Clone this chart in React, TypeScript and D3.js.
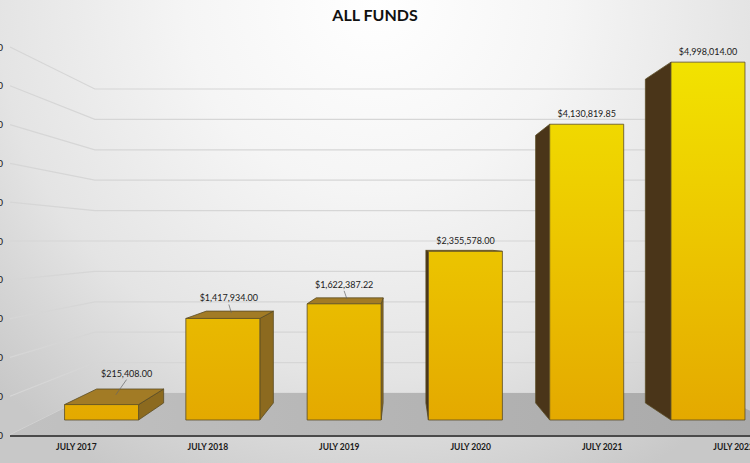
import * as d3 from 'd3'

const years = ['JULY 2017', 'JULY 2018', 'JULY 2019', 'JULY 2020', 'JULY 2021', 'JULY 2022']
const totals = [215408.0, 1417934.0, 1622387.22, 2355578.0, 4130819.85, 4998014.0]
const yTicks = d3.range(0, 5000001, 500000)

// label nudges for the three short bars (they have leader lines)
const labelShift: [number, number][] = [[25, -21], [6, -10], [0, -9], [0, 0], [0, 0], [0, 0]]

const width = 750
const height = 463
const eye = { x: 402, y: 241 }

const fmtValue = d3.format('$,.2f')
const fmtTick = d3.format('$,')

type Pt = [number, number]

export default function App() {
  const x = d3.scaleBand<string>()
    .domain(years)
    .range([10, 800])
    .paddingInner(0.39)
    .paddingOuter(0.2)

  const y = d3.scaleLinear()
    .domain([0, 5000000])
    .range([435, 47])

  // depth 0 = front plane, 1 = back wall
  const depth = d3.scaleLinear().domain([0, 1]).range([1, 0.7835])
  const barZ = [0.357, 0.763]

  const proj = (px: number, py: number, z: number): Pt => {
    const f = depth(z)
    return [eye.x + f * (px - eye.x), eye.y + f * (py - eye.y)]
  }
  const poly = (pts: Pt[]) => 'M' + pts.map(p => p.join(',')).join('L') + 'Z'

  const [x0, x1] = x.range()
  const y0 = y(0)

  const floor = [proj(x0, y0, 0), proj(x1, y0, 0), proj(x1, y0, 1), proj(x0, y0, 1)]

  const bars = years.map((yr, i) => {
    const l = x(yr) || 0
    const r = l + x.bandwidth()
    const t = y(totals[i])
    const [za, zb] = barZ
    const front = [proj(l, t, za), proj(r, t, za), proj(r, y0, za), proj(l, y0, za)]
    const top = [proj(l, t, za), proj(r, t, za), proj(r, t, zb), proj(l, t, zb)]
    let side: Pt[] | null = null
    let sideFill = '#8c6a1f'
    if (r < eye.x) {
      side = [proj(r, t, za), proj(r, t, zb), proj(r, y0, zb), proj(r, y0, za)]
    } else if (l > eye.x) {
      side = [proj(l, t, za), proj(l, t, zb), proj(l, y0, zb), proj(l, y0, za)]
      sideFill = '#4a3519'
    }
    const showTop = t > eye.y
    const fc = proj(l + x.bandwidth() / 2, t, za)
    const anchor = proj(l + x.bandwidth() / 2, t, (za + zb) / 2)
    const lx = fc[0] + labelShift[i][0]
    const ly = fc[1] - 7 + labelShift[i][1]
    const leader = labelShift[i][1] < 0
    return { yr, i, front, top, side, sideFill, showTop, lx, ly, anchor, leader, cx: l + x.bandwidth() / 2 }
  })

  return (
    <div style={{ position: 'absolute', left: 0, top: 0 }}>
      <svg width={width} height={height} style={{ display: 'block' }}>
        <defs>
          <radialGradient id="bg" gradientUnits="userSpaceOnUse" cx={375} cy={0} r={540}>
            <stop offset="0" stopColor="#ffffff" />
            <stop offset="0.35" stopColor="#f5f5f5" />
            <stop offset="0.7" stopColor="#e4e4e4" />
            <stop offset="1" stopColor="#c8c8c8" />
          </radialGradient>
          <linearGradient id="floor" gradientUnits="userSpaceOnUse" x1={0} y1={0} x2={750} y2={0}>
            <stop offset="0" stopColor="#c2c2c2" />
            <stop offset="1" stopColor="#a9a9a9" />
          </linearGradient>
          <linearGradient id="face" gradientUnits="userSpaceOnUse" x1={0} y1={60} x2={0} y2={420}>
            <stop offset="0" stopColor="#f2e300" />
            <stop offset="0.5" stopColor="#ecc600" />
            <stop offset="1" stopColor="#e4a900" />
          </linearGradient>
        </defs>

        <rect width={width} height={height} fill="url(#bg)" />

        <text x={375} y={21} textAnchor="middle" fontFamily="Lato, sans-serif"
          fontWeight="bold" fontSize={16} fill="#111">ALL FUNDS</text>

        {yTicks.map(v => {
          const a = proj(x0, y(v), 0)
          const b = proj(x0, y(v), 1)
          const c = proj(x1, y(v), 1)
          return (
            <g key={v}>
              <path d={`M${a}L${b}L${c}`} fill="none" stroke="#d6d6d6" strokeWidth={1.2} />
              <text x={3} y={y(v) + 3.5} textAnchor="end" fontFamily="Lato, sans-serif"
                fontSize={10} fill="#222">{fmtTick(v)}</text>
            </g>
          )
        })}

        <path d={poly(floor)} fill="url(#floor)" />
        <line x1={x0} x2={x1} y1={y0 + 1} y2={y0 + 1} stroke="#4a4a4a" strokeWidth={2} />

        {bars.map(b => (
          <g key={b.yr} stroke="#5a4c26" strokeWidth={0.8} strokeLinejoin="round">
            {b.side && <path d={poly(b.side)} fill={b.sideFill} />}
            {b.showTop && <path d={poly(b.top)} fill="#a27b25" />}
            <path d={poly(b.front)} fill="url(#face)" />
          </g>
        ))}

        {bars.map(b => (
          <g key={b.yr} fontFamily="Lato, sans-serif" fill="#1a1a1a">
            {b.leader && (
              <line x1={b.lx} y1={b.ly + 3} x2={b.anchor[0]} y2={b.anchor[1] - 2}
                stroke="#666" strokeWidth={0.7} />
            )}
            <text x={b.lx} y={b.ly} textAnchor="middle" fontSize={9}>{fmtValue(totals[b.i])}</text>
            <text x={b.cx} y={450} textAnchor="middle" fontSize={8.5} fontWeight="bold">{b.yr}</text>
          </g>
        ))}
      </svg>
    </div>
  )
}
